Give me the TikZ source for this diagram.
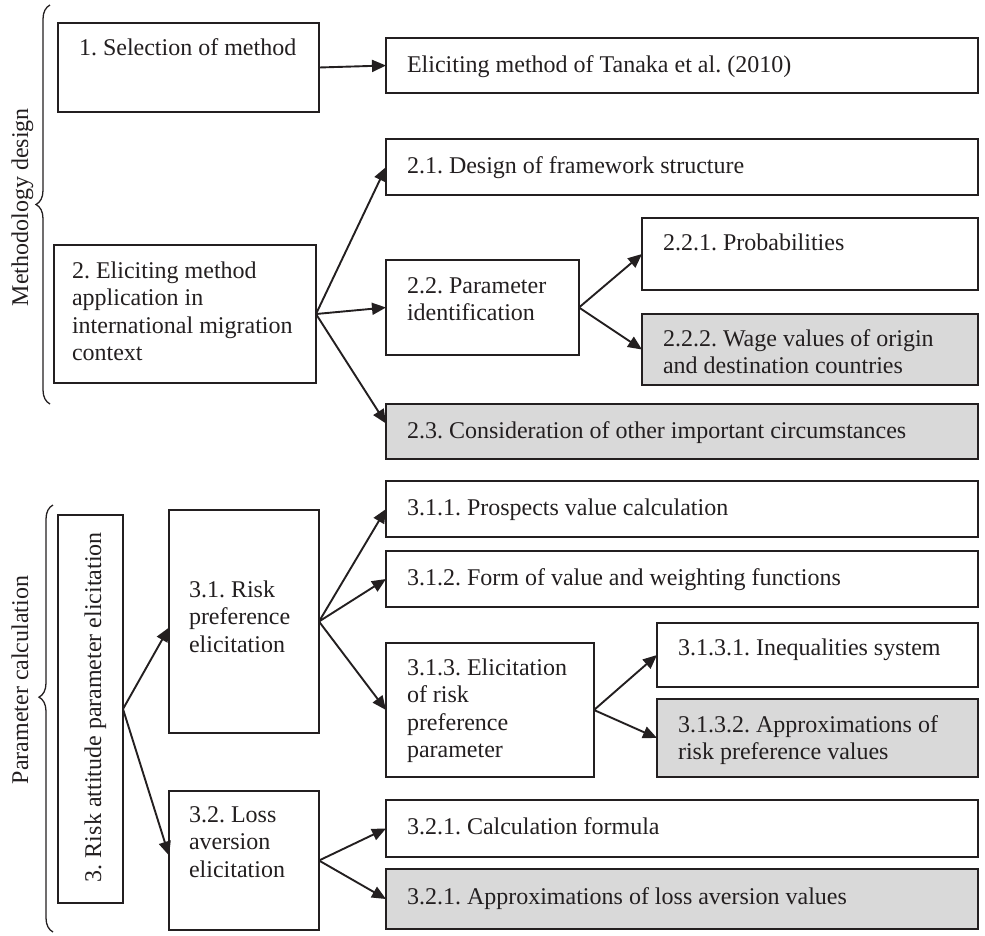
\documentclass[tikz,border=0pt]{standalone}
\usepackage{fontspec}
\setmainfont{Liberation Serif}
\usetikzlibrary{arrows.meta,decorations.pathreplacing}
\definecolor{ink}{RGB}{35,31,32}
\definecolor{shade}{RGB}{217,217,217}
% stacked lines, aligned on the baseline of the first line
\newcommand{\stack}[1]{\begin{tabular}[t]{@{}l@{}}#1\end{tabular}}
% numbered headings: no sentence spacing after the periods
\frenchspacing

\begin{document}
\begin{tikzpicture}[x=1pt,y=-1pt,
  every node/.style={inner sep=0pt, outer sep=0pt},
  panel/.style={draw=ink, line width=1.4pt, fill=white, anchor=north west},
  panelgrey/.style={panel, fill=shade},
  txt/.style={anchor=base west, text=ink, font=\fontsize{24}{27.5}\selectfont\frenchspacing},
  side/.style={anchor=base, rotate=90, text=ink, font=\fontsize{24}{27.5}\selectfont},
  link/.style={draw=ink, line width=1.9pt, -{Triangle[length=14pt,width=12pt]}},
  curly/.style={draw=ink, line width=1.3pt, decorate, decoration={brace, amplitude=14pt, #1}},
  curly/.default={aspect=0.5}]

\useasboundingbox (0,0) rectangle (985,935);

% ---- methodology design ----
\node[panel, minimum width=261pt, minimum height=89pt] (sel) at (58,23) {};
\node[txt] (selT) at ([shift={(21,32)}]sel.north west) {1. Selection of method};

\node[panel, minimum width=592pt, minimum height=55pt] (tanaka) at (386,38) {};
\node[txt] (tanakaT) at ([shift={(21,34)}]tanaka.north west) {Eliciting method of Tanaka et al. (2010)};

\node[panel, minimum width=262pt, minimum height=138pt] (app) at (54,245) {};
\node[txt] (appT) at ([shift={(18,33)}]app.north west)
  {\stack{2. Eliciting method\\application in\\international migration\\context}};

\node[panel, minimum width=592pt, minimum height=56pt] (design) at (386,139) {};
\node[txt] (designT) at ([shift={(21,34)}]design.north west) {2.1. Design of framework structure};

\node[panel, minimum width=193pt, minimum height=95pt] (ident) at (386,260) {};
\node[txt] (identT) at ([shift={(21,33)}]ident.north west) {\stack{2.2. Parameter\\identification}};

\node[panel, minimum width=336pt, minimum height=72pt] (prob) at (642,218) {};
\node[txt] (probT) at ([shift={(21,32)}]prob.north west) {2.2.1. Probabilities};

\node[panelgrey, minimum width=336pt, minimum height=71pt] (wage) at (642,314) {};
\node[txt] (wageT) at ([shift={(21,32)}]wage.north west) {\stack{2.2.2. Wage values of origin\\and destination countries}};

\node[panelgrey, minimum width=592pt, minimum height=55pt] (other) at (386,404) {};
\node[txt] (otherT) at ([shift={(21,34)}]other.north west) {2.3. Consideration of other important circumstances};

% ---- parameter calculation ----
\node[panel, minimum width=65pt, minimum height=388pt] (risk) at (58,515) {};
\node[txt, rotate=90] (riskT) at (101,882) {3. Risk attitude parameter elicitation};

\node[panel, minimum width=150pt, minimum height=223pt] (pref) at (169,510) {};
\node[txt] (prefT) at (189,597) {\stack{3.1. Risk\\preference\\elicitation}};

\node[panel, minimum width=592pt, minimum height=56pt] (prosp) at (386,481) {};
\node[txt] (prospT) at ([shift={(21,34)}]prosp.north west) {3.1.1. Prospects value calculation};

\node[panel, minimum width=592pt, minimum height=56pt] (form) at (386,551) {};
\node[txt] (formT) at ([shift={(21,34)}]form.north west) {3.1.2. Form of value and weighting functions};

\node[panel, minimum width=208pt, minimum height=134pt] (elic) at (386,643) {};
\node[txt] (elicT) at ([shift={(21,32)}]elic.north west) {\stack{3.1.3. Elicitation\\of risk\\preference\\parameter}};

\node[panel, minimum width=321pt, minimum height=64pt] (ineq) at (657,623) {};
\node[txt] (ineqT) at ([shift={(21,32)}]ineq.north west) {3.1.3.1. Inequalities system};

\node[panelgrey, minimum width=321pt, minimum height=78pt] (aprisk) at (657,699) {};
\node[txt] (apriskT) at ([shift={(21,33)}]aprisk.north west) {\stack{3.1.3.2. Approximations of\\risk preference values}};

\node[panel, minimum width=150pt, minimum height=139pt] (loss) at (169,791) {};
\node[txt] (lossT) at ([shift={(20,31)}]loss.north west) {\stack{3.2. Loss\\aversion\\elicitation}};

\node[panel, minimum width=592pt, minimum height=57pt] (formula) at (386,800) {};
\node[txt] (formulaT) at ([shift={(21,34)}]formula.north west) {3.2.1. Calculation formula};

\node[panelgrey, minimum width=592pt, minimum height=60pt] (aploss) at (386,869) {};
\node[txt] (aplossT) at ([shift={(21,35)}]aploss.north west) {3.2.1. Approximations of loss aversion values};

% ---- connectors ----
\draw[link] (sel.east) -- (tanaka.west);
\draw[link] (app.east) -- (design.west);
\draw[link] (app.east) -- (ident.west);
\draw[link] (app.east) -- ([yshift=8pt]other.west);
\draw[link] (ident.east) -- (prob.west);
\draw[link] (ident.east) -- (wage.west);

\draw[link] (risk.east) -- ([yshift=-6pt]pref.west);
\draw[link] (risk.east) -- ([yshift=5pt]loss.west);
\draw[link] (pref.east) -- (prosp.west);
\draw[link] (pref.east) -- (form.west);
\draw[link] (pref.east) -- (elic.west);
\draw[link] (elic.east) -- (ineq.west);
\draw[link] (elic.east) -- (aprisk.west);
\draw[link] (loss.east) -- (formula.west);
\draw[link] (loss.east) -- (aploss.west);

% ---- group braces ----
\coordinate (mdLow) at (50,404);
\coordinate (mdHigh) at (50,5);
\draw[curly] (mdLow) -- (mdHigh);
\node[side] (mdT) at (28,207) {Methodology design};

\coordinate (pcLow) at (53,932);
\coordinate (pcHigh) at (53,505);
\draw[curly={aspect=0.55}] (pcLow) -- (pcHigh);
\node[side] (pcT) at (28,680) {Parameter calculation};
\end{tikzpicture}
\end{document}
